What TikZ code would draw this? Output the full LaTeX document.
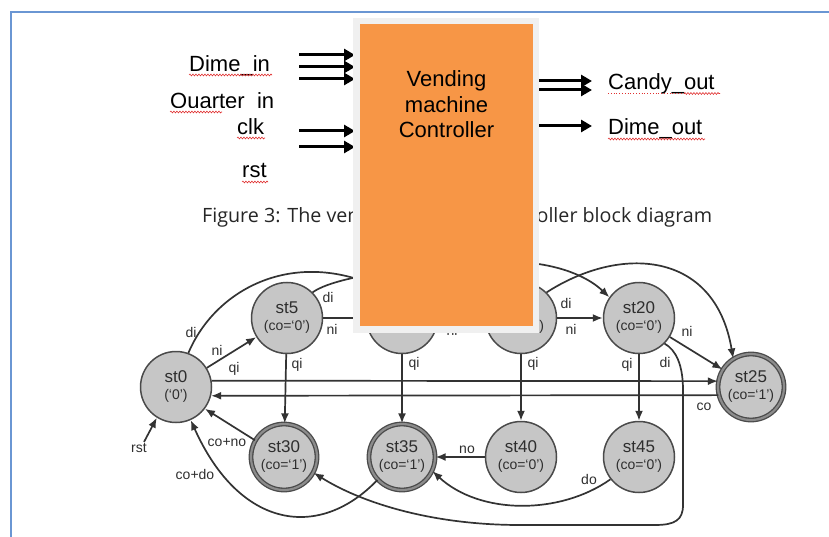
\documentclass[tikz,border=0pt]{standalone}
\usepackage{fontspec}
\setmainfont{Liberation Sans}
\newfontfamily\capfont{Open Sans}
\usetikzlibrary{arrows.meta,decorations.pathmorphing}
\definecolor{frameblue}{HTML}{6A96D3}
\definecolor{boxorange}{HTML}{F79646}
\definecolor{boxgray}{HTML}{F0F0F0}
\definecolor{stfill}{HTML}{C6C6C6}
\definecolor{stline}{HTML}{4A4A4A}
\definecolor{dbl}{HTML}{8C8C8C}
\definecolor{edgec}{HTML}{333333}
\definecolor{txt}{HTML}{2E2E2E}
\definecolor{captxt}{HTML}{262626}
\definecolor{squigred}{HTML}{E03030}
\begin{document}
\begin{tikzpicture}[x=1pt,y=-1pt,
  state/.style={circle,draw=stline,fill=stfill,line width=1.5pt,minimum size=71pt,inner sep=0pt,align=center,text=txt,font=\fontsize{17}{17}\selectfont},
  accept/.style={state,line width=1.3pt,double=dbl,double distance=2.2pt,minimum size=66pt},
  edge/.style={draw=edgec,line width=1.7pt,-{Latex[length=10pt,width=8pt]}},
  lbl/.style={font=\fontsize{14}{14}\selectfont,text=txt,inner sep=0pt},
  blk/.style={line width=3pt,-{Triangle[length=11pt,width=12pt]}},
  io/.style={font=\fontsize{22}{22}\selectfont,anchor=base west,inner sep=0pt},
  squig/.style={squigred,line width=0.6pt,decorate,decoration={snake,amplitude=0.9pt,segment length=3pt}},
  dotsq/.style={squigred,line width=0.8pt,dotted},
]
\useasboundingbox (0,0) rectangle (829,537);
% frame
\draw[frameblue,line width=2pt] (11,537) -- (11,12.5) -- (829,12.5);

% ---------- block diagram ----------
\node[io] (tdime) at (189,72) {Dime\_in};
\begin{scope}
  \clip (150,85) rectangle (300,107.5);
  \node[io] (tquarter) at (170,109) {Quarter\_in};
\end{scope}
\node[io] (tclk) at (237,135) {clk};
\node[io] (trst) at (242,178) {rst};
\node[io] (tcandy) at (608,90) {Candy\_out};
\node[io] (tdimeo) at (608,135) {Dime\_out};
\draw[squig] (189,75) -- (272,75);
\draw[squig] (170,112) -- (222,112);
\draw[squig] (237,138) -- (265,138);
\draw[squig] (242,182) -- (268,182);
\draw[dotsq] (608,93.5) -- (684,93.5);
\draw[squig] (684,93.5) -- (720,93.5);
\draw[squig] (608,139) -- (705,139);

\foreach \y [count=\i] in {55,67,79,131,147} {
  \coordinate (in\i s) at (299,\y);
  \coordinate (in\i e) at (355,\y);
  \draw[blk] (in\i s) -- (in\i e);
}
\foreach \y [count=\i] in {81,90,126} {
  \coordinate (out\i s) at (536,\y);
  \coordinate (out\i e) at (592,\y);
  \draw[blk] (out\i s) -- (out\i e);
}

\node[anchor=base west,inner sep=0pt,text=captxt,font=\capfont\fontsize{19.7}{20}\selectfont] (cap) at (202,223)
  {Figure 3: The vending machine controller block diagram};

% ---------- FSM ----------
\node[state] (s0) at (176,387) {st0\\{\fontsize{14}{14}\selectfont (`0')}};
\node[state] (s5) at (287,318) {st5\\{\fontsize{14}{14}\selectfont (co=`0')}};
\node[state] (s10) at (402,318) {st10\\{\fontsize{14}{14}\selectfont (co=`0')}};
\node[state] (s15) at (521,318) {st15\\{\fontsize{14}{14}\selectfont (co=`0')}};
\node[state] (s20) at (639,318) {st20\\{\fontsize{14}{14}\selectfont (co=`0')}};
\node[accept] (s25) at (751,387) {st25\\{\fontsize{14}{14}\selectfont (co=`1')}};
\node[accept] (s30) at (284,457) {st30\\{\fontsize{14}{14}\selectfont (co=`1')}};
\node[accept] (s35) at (402,457) {st35\\{\fontsize{14}{14}\selectfont (co=`1')}};
\node[state] (s40) at (521,457) {st40\\{\fontsize{14}{14}\selectfont (co=`0')}};
\node[state] (s45) at (639,457) {st45\\{\fontsize{14}{14}\selectfont (co=`0')}};
\coordinate (rs) at (144,442);

\draw[edge] (s0) -- (s5);
\draw[edge] (s0.70) .. controls (215,290) and (290,250) .. (s10.125);
\draw[edge] (s0.10) -- (s25.170);
\draw[edge] (s25.194) -- (s0.346);
\draw[edge] (s5) -- (s10);
\draw[edge] (s5.45) .. controls (340,272) and (470,258) .. (s15.130);
\draw[edge] (s5) -- (s30);
\draw[edge] (s10) -- (s15);
\draw[edge] (s10.50) .. controls (465,250) and (565,255) .. (s20.145);
\draw[edge] (s10) -- (s35);
\draw[edge] (s15) -- (s20);
\draw[edge] (s15.45) .. controls (620,245) and (715,250) .. (s25.122);
\draw[edge] (s15) -- (s40);
\draw[edge] (s20) -- (s25);
\draw[edge] (s20) -- (s45);
\draw[edge] (s20.-45) .. controls (676,350) and (683,365) .. (683,390) -- (683,505)
   .. controls (683,520) and (675,525) .. (655,525) -- (520,525)
   .. controls (430,525) and (360,502) .. (s30.-28);
\draw[edge] (s45.218) .. controls (560,515) and (480,515) .. (s35.-25);
\draw[edge] (s40) -- (s35);
\draw[edge] (s30.150) -- (s0.-37);
\draw[edge] (s35.223) .. controls (320,540) and (240,530) .. (s0.-66);
\draw[edge] (rs) -- (s0.238);

\node[lbl] (l1) at (191,332) {di};
\node[lbl] (l2) at (217,350) {ni};
\node[lbl] (l3) at (234,369) {qi};
\node[lbl] (l4) at (328,297) {di};
\node[lbl] (l5) at (332,329) {ni};
\node[lbl] (l6) at (297,365) {qi};
\node[lbl] (l7) at (447,297) {di};
\node[lbl] (l8) at (452,330) {ni};
\node[lbl] (l9) at (414,364) {qi};
\node[lbl] (l10) at (566,303) {di};
\node[lbl] (l11) at (571,329) {ni};
\node[lbl] (l12) at (533,364) {qi};
\node[lbl] (l13) at (687,331) {ni};
\node[lbl] (l14) at (627,365) {qi};
\node[lbl] (l15) at (665,362) {di};
\node[lbl] (l16) at (704,407) {co};
\node[lbl] (l17) at (467,450) {no};
\node[lbl] (l18) at (589,479) {do};
\node[lbl] (l19) at (227,443) {co+no};
\node[lbl] (l20) at (195,474) {co+do};
\node[lbl] (l21) at (139,448) {rst};

% ---------- controller box ----------
\fill[boxgray] (353,18) rectangle (539,333);
\fill[boxorange] (360,24) rectangle (533,326);
\node[inner sep=0pt,anchor=base,font=\fontsize{22}{22}\selectfont] (v1) at (446.5,87) {Vending};
\node[inner sep=0pt,anchor=base,font=\fontsize{22}{22}\selectfont] (v2) at (446.5,113) {machine};
\node[inner sep=0pt,anchor=base,font=\fontsize{22}{22}\selectfont] (v3) at (446.5,138) {Controller};
\end{tikzpicture}
\end{document}
